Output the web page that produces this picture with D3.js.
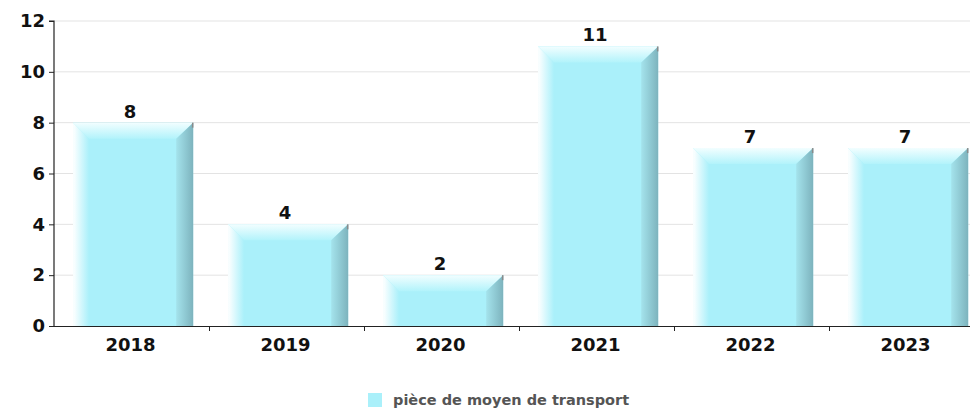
<!DOCTYPE html>
<html>
<head>
<meta charset="utf-8">
<script src="https://cdn.jsdelivr.net/npm/d3@7/dist/d3.min.js"></script>
<style>
  html, body { margin: 0; padding: 0; background: #fff; }
  svg { display: block; }
</style>
</head>
<body>
<svg id="chart" width="973" height="409"></svg>
<script>
// Data
const categories = ["2018", "2019", "2020", "2021", "2022", "2023"];
const values = [8, 4, 2, 11, 7, 7];
const yTicks = [0, 2, 4, 6, 8, 10, 12];
const seriesName = "pièce de moyen de transport";

const W = 973, H = 409;
const plot = { left: 54, top: 21, bottom: 326, right: 984 };

const svg = d3.select("#chart");

const x = d3.scaleBand().domain(categories).range([plot.left, plot.right]).padding(0);
const y = d3.scaleLinear().domain([0, 12]).range([plot.bottom, plot.top]);

const step = x.step();
const barOffset = step * 0.123;
const barWidth = step * 0.775;
const bevel = 16;

// Gradients for the bevelled bars
const defs = svg.append("defs");
const gLeft = defs.append("linearGradient").attr("id", "gLeft").attr("x1", 0).attr("x2", 1).attr("y1", 0).attr("y2", 0);
gLeft.append("stop").attr("offset", 0).attr("stop-color", "#ffffff");
gLeft.append("stop").attr("offset", 1).attr("stop-color", "#aaf0fa");
const gTop = defs.append("linearGradient").attr("id", "gTop").attr("x1", 0).attr("x2", 0).attr("y1", 0).attr("y2", 1);
gTop.append("stop").attr("offset", 0).attr("stop-color", "#f2feff");
gTop.append("stop").attr("offset", 1).attr("stop-color", "#b2f3fb");
const gRight = defs.append("linearGradient").attr("id", "gRight").attr("x1", 0).attr("x2", 1).attr("y1", 0).attr("y2", 0);
gRight.append("stop").attr("offset", 0).attr("stop-color", "#a4e3ec");
gRight.append("stop").attr("offset", 1).attr("stop-color", "#7db3bd");
const clip = defs.append("clipPath").attr("id", "plotClip");
clip.append("rect").attr("x", 0).attr("y", 0).attr("width", W).attr("height", H);

// Grid lines
svg.append("g")
  .selectAll("line")
  .data(yTicks.filter(t => t > 0))
  .join("line")
  .attr("x1", plot.left).attr("x2", 970)
  .attr("y1", d => y(d)).attr("y2", d => y(d))
  .attr("stroke", "#e3e3e3").attr("stroke-width", 1);

// X axis baseline and boundary ticks
const axisColor = "#222";
svg.append("line")
  .attr("x1", plot.left).attr("x2", 970)
  .attr("y1", y(0) + 0.5).attr("y2", y(0) + 0.5)
  .attr("stroke", axisColor).attr("stroke-width", 1.2);
svg.append("g")
  .selectAll("line")
  .data(categories.slice(1))
  .join("line")
  .attr("x1", d => Math.round(x(d)) + 0.5).attr("x2", d => Math.round(x(d)) + 0.5)
  .attr("y1", y(0)).attr("y2", y(0) + 5)
  .attr("stroke", axisColor).attr("stroke-width", 1);

// Bars
const bars = svg.append("g").attr("clip-path", "url(#plotClip)")
  .selectAll("g")
  .data(categories.map((c, i) => ({ c, v: values[i] })))
  .join("g");

bars.each(function(d) {
  const g = d3.select(this);
  const x0 = x(d.c) + barOffset;
  const x1 = x0 + barWidth;
  const top = y(d.v);
  const bot = y(0);
  // main face
  g.append("rect").attr("x", x0).attr("y", top).attr("width", barWidth).attr("height", bot - top)
    .attr("fill", "#aaf0fa");
  // left fading edge
  g.append("path")
    .attr("d", `M${x0},${top} L${x0 + bevel},${top + bevel} L${x0 + bevel},${bot} L${x0},${bot} Z`)
    .attr("fill", "url(#gLeft)");
  // top bevel
  g.append("path")
    .attr("d", `M${x0},${top} L${x1},${top} L${x1 - bevel - 1},${top + bevel} L${x0 + bevel},${top + bevel} Z`)
    .attr("fill", "url(#gTop)");
  // right shaded side
  g.append("path")
    .attr("d", `M${x1},${top} L${x1},${bot} L${x1 - bevel - 1},${bot} L${x1 - bevel - 1},${top + bevel} Z`)
    .attr("fill", "url(#gRight)");
  // corner highlight
  g.append("line")
    .attr("x1", x1 - 0.5).attr("x2", x1 - 0.5).attr("y1", top).attr("y2", top + 5)
    .attr("stroke", "#8a8a8a").attr("stroke-width", 1.5);
});

// Value labels
svg.append("g")
  .selectAll("text")
  .data(categories.map((c, i) => ({ c, v: values[i] })))
  .join("text")
  .attr("x", d => x(d.c) + barOffset + barWidth / 2 - 3)
  .attr("y", d => y(d.v) - 5)
  .attr("text-anchor", "middle")
  .attr("font-family", "DejaVu Sans")
  .attr("font-weight", "bold")
  .attr("font-size", 18)
  .attr("fill", "#111")
  .text(d => d.v);

// Y axis
const yAxis = d3.axisLeft(y).tickValues(yTicks).tickSize(5).tickPadding(4).tickFormat(d3.format("d"));
const yG = svg.append("g").attr("transform", `translate(${plot.left},0)`).call(yAxis);
yG.select(".domain").attr("stroke", axisColor).attr("stroke-width", 1.2).attr("d", `M-5,${y(12)}H0V${y(0) + 1}`);
yG.selectAll(".tick line").attr("stroke", axisColor);
yG.selectAll(".tick text")
  .attr("font-family", "DejaVu Sans").attr("font-weight", "bold").attr("font-size", 18).attr("fill", "#111");

// X axis labels
const xAxis = d3.axisBottom(x).tickSize(0).tickPadding(12);
const xG = svg.append("g").attr("transform", `translate(0,${y(0)})`).call(xAxis);
xG.select(".domain").remove();
xG.selectAll(".tick text")
  .attr("font-family", "DejaVu Sans").attr("font-weight", "bold").attr("font-size", 18).attr("fill", "#111")
  .attr("dx", -1);

// Legend
const legend = svg.append("g").attr("transform", "translate(368,393)");
legend.append("rect").attr("x", 0).attr("y", 0).attr("width", 14).attr("height", 14).attr("fill", "#aaf0fa");
legend.append("text")
  .attr("x", 25).attr("y", 12)
  .attr("font-family", "DejaVu Sans").attr("font-weight", "bold").attr("font-size", 14.5)
  .attr("fill", "#555")
  .text(seriesName);
</script>
</body>
</html>
